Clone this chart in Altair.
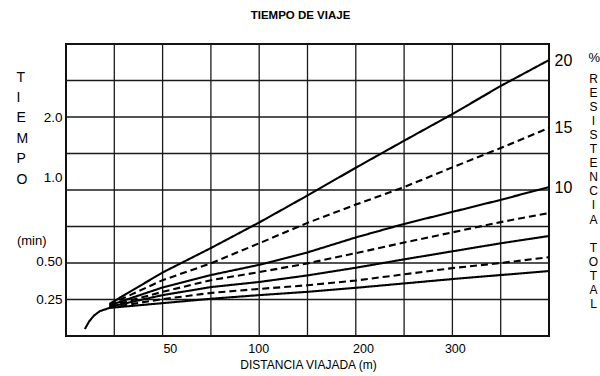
import altair as alt
import pandas as pd

# ---- data (x and y in chart grid units: 10 columns x 8 rows) ----
x_pos = [0.9, 2, 3, 4, 5, 6, 7, 8, 9, 10]
line_a = [0.88, 1.74, 2.41, 3.11, 3.85, 4.61, 5.35, 6.08, 6.85, 7.56]   # solid, 20 %
line_b = [0.86, 1.53, 1.99, 2.54, 3.10, 3.60, 4.08, 4.62, 5.15, 5.70]   # dashed, 15 %
line_c = [0.84, 1.33, 1.67, 1.95, 2.29, 2.70, 3.07, 3.40, 3.73, 4.08]   # solid, 10 %
line_d = [0.82, 1.21, 1.53, 1.75, 1.99, 2.27, 2.56, 2.84, 3.12, 3.37]   # dashed
line_e = [0.80, 1.12, 1.34, 1.48, 1.66, 1.87, 2.10, 2.32, 2.54, 2.74]   # solid
line_f = [0.78, 1.01, 1.18, 1.29, 1.39, 1.52, 1.69, 1.86, 2.00, 2.16]   # dashed
line_g = [0.77, 0.90, 1.02, 1.12, 1.21, 1.32, 1.44, 1.56, 1.67, 1.78]   # solid
line_g_start_x = [0.39, 0.48, 0.58, 0.70]
line_g_start_y = [0.19, 0.40, 0.56, 0.68]

series_names = ["a", "b", "c", "d", "e", "f", "g"]
series_vals = [line_a, line_b, line_c, line_d, line_e, line_f, line_g]

x_grid = list(range(0, 11))
y_grid = list(range(0, 9))

x_tick_pos = [2.15, 3.98, 6.15, 8.05]
x_tick_lab = ["50", "100", "200", "300"]
y_tick_pos = [0.99, 2.05, 2.63, 4.33, 6.0]
y_tick_lab = ["0.25", "0.50", "(min)", "1.0", "2.0"]
r_tick_pos = [7.56, 5.70, 4.08, 7.62]
r_tick_lab = ["20", "15", "10", "%"]

left_title = ["T", "I", "E", "M", "P", "O"]
right_title = ["R", "E", "S", "I", "S", "T", "E", "N", "C", "I", "A"]
right_title2 = ["T", "O", "T", "A", "L"]

# ---- tables ----
rows = []
for name, vals in zip(series_names, series_vals):
    xs_ = list(x_pos)
    ys_ = list(vals)
    if name == "g":
        xs_ = line_g_start_x + xs_
        ys_ = line_g_start_y + ys_
    for i, (xx, yy) in enumerate(zip(xs_, ys_)):
        rows.append({"s": name, "x": xx, "y": yy, "o": i})
df = pd.DataFrame(rows)
ends = df[df["x"] == 10]

gx = pd.DataFrame({"g": x_grid})
gy = pd.DataFrame({"g": y_grid})

FONT = "Liberation Sans"
xs = alt.Scale(domain=[0, 10], nice=False, zero=False)
ys = alt.Scale(domain=[0, 8], nice=False, zero=False)


def expr_from(pos, lab):
    parts = []
    for p, l in zip(pos[:-1], lab[:-1]):
        parts.append(f"abs(datum.value - {p}) < 0.01 ? '{l}' : ")
    return "".join(parts) + f"'{lab[-1]}'"


def is_val(p):
    return f"abs(datum.value - {p}) < 0.01"


grid_v = alt.Chart(gx).mark_rule(color="#1a1a1a", strokeWidth=1.3).encode(
    x=alt.X("g:Q", scale=xs, axis=None)
)
grid_h = alt.Chart(gy).mark_rule(color="#1a1a1a", strokeWidth=1.3).encode(
    y=alt.Y("g:Q", scale=ys, axis=None)
)

min_test = is_val(2.63)
pct_test = is_val(7.62)

lines = alt.Chart(df).mark_line(color="black", strokeWidth=2.1).encode(
    x=alt.X(
        "x:Q",
        scale=xs,
        axis=alt.Axis(
            values=x_tick_pos,
            labelExpr=expr_from(x_tick_pos, x_tick_lab),
            grid=False, ticks=False, domain=False,
            labelFont=FONT, labelFontSize=12.5, labelColor="black", labelPadding=6,
            title="DISTANCIA VIAJADA (m)", titleFont=FONT, titleFontSize=12,
            titleFontWeight="normal", titleColor="black",
            titleX=242, titleY=28, titleBaseline="middle",
        ),
    ),
    y=alt.Y(
        "y:Q",
        scale=ys,
        axis=alt.Axis(
            values=y_tick_pos,
            labelExpr=expr_from(y_tick_pos, y_tick_lab),
            grid=False, ticks=False, domain=False, labelOverlap=False,
            labelFont=FONT, labelColor="black",
            labelFontSize={"condition": {"test": min_test, "value": 13}, "value": 13.5},
            labelPadding={"condition": {"test": min_test, "value": 20}, "value": 4},
            title=left_title,
            titleAngle=0, titleAlign="left", titleBaseline="top",
            titleFont=FONT, titleFontSize=14, titleFontWeight="normal",
            titleColor="black", titleLineHeight=20.4,
            titleX=-50, titleY=26,
        ),
    ),
    detail="s:N",
    order="o:Q",
    strokeDash=alt.StrokeDash(
        "s:N",
        scale=alt.Scale(
            domain=series_names,
            range=[[1, 0], [7, 4], [1, 0], [7, 4], [1, 0], [7, 4], [1, 0]],
        ),
        legend=None,
    ),
)

extra = alt.Chart(ends).mark_point(opacity=0).encode(
    x=alt.X(
        "x:Q",
        scale=xs,
        axis=alt.Axis(
            orient="top", values=[], grid=False, ticks=False, domain=False, labels=False,
            title=right_title2, titleFont=FONT, titleFontSize=12, titleFontWeight="normal",
            titleColor="black", titleX=527, titleY=198, titleBaseline="top",
            titleAlign="center", titleAngle=0, titleLineHeight=14.1,
        ),
    ),
    y=alt.Y(
        "y:Q",
        scale=ys,
        axis=alt.Axis(
            orient="right",
            values=r_tick_pos,
            labelExpr=expr_from(r_tick_pos, r_tick_lab),
            grid=False, ticks=False, domain=False, labelOverlap=False,
            labelFont=FONT, labelColor="black",
            labelFontSize={"condition": {"test": pct_test, "value": 13}, "value": 16},
            labelPadding={"condition": {"test": pct_test, "value": 39}, "value": 5},
            title=right_title,
            titleAngle=0, titleAlign="center", titleBaseline="top",
            titleFont=FONT, titleFontSize=12, titleFontWeight="normal",
            titleColor="black", titleLineHeight=14.1,
            titleX=44, titleY=29,
        ),
    ),
)

chart = (
    alt.layer(grid_v, grid_h, lines, extra)
    .resolve_scale(x="independent", y="independent")
    .properties(
        width=483,
        height=292,
        autosize=alt.AutoSizeParams(type="none"),
        padding={"left": 66, "top": 44, "right": 51, "bottom": 40},
        title=alt.TitleParams(
            "TIEMPO DE VIAJE", font=FONT, fontSize=11.5, fontWeight="bold",
            color="black", anchor="middle", dx=-7, offset=22,
        ),
        background="white",
    )
    .configure_view(stroke="black", strokeWidth=2)
)

chart.save("out.html", embed_options={"renderer": "svg", "actions": False})
